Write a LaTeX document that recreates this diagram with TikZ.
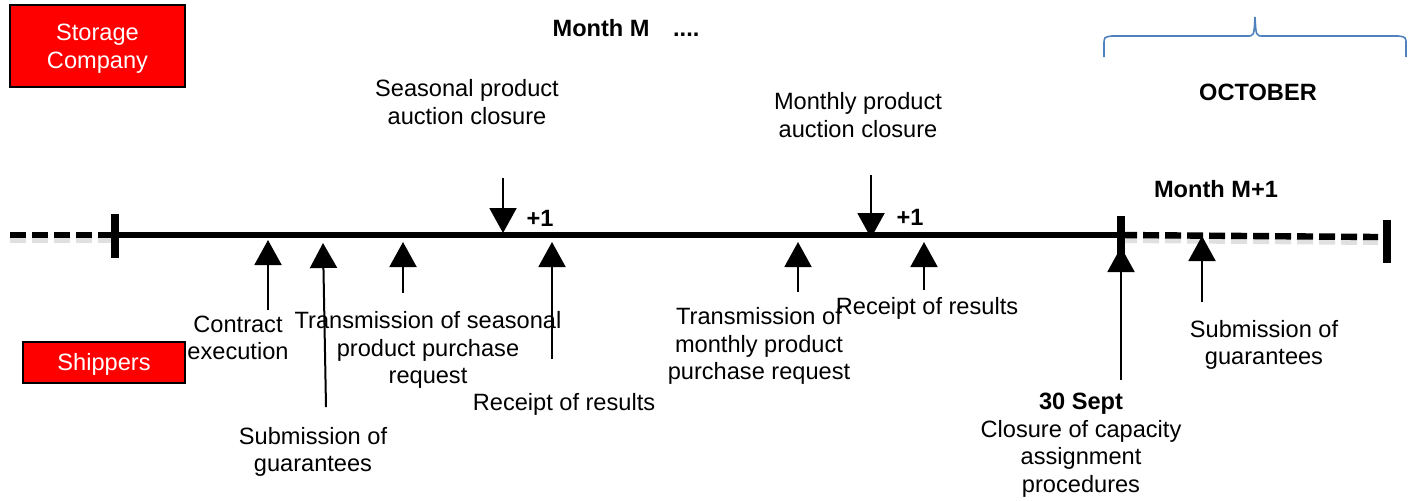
\documentclass[tikz,border=0pt]{standalone}
\usepackage{fontspec}
\setmainfont{Liberation Sans}
\usetikzlibrary{arrows.meta}
\definecolor{boxred}{RGB}{255,0,0}
\definecolor{bracecol}{RGB}{79,129,189}

\begin{document}
\begin{tikzpicture}[x=0.5pt,y=-0.5pt,
  evt/.style={align=center,font=\fontsize{11.8}{13.8}\selectfont},
  hdr/.style={font=\fontsize{11.8}{13.8}\selectfont\bfseries},
  party/.style={draw=black,line width=1pt,fill=boxred,text=white,align=center,text depth=0pt,font=\fontsize{11.8}{14.2}\selectfont},
  evtarrow/.style={line width=1pt,-{Triangle[length=12.5pt,width=13.5pt]}},
  axis/.style={line width=3.2pt},
  axisdash/.style={line width=3.2pt,dash pattern=on 8pt off 3pt},
  axisshade/.style={line width=3pt,dash pattern=on 8pt off 3pt,black!12},
  endbar/.style={line width=4pt}]
\tikzstyle{every node}+=[inner sep=0pt]
\useasboundingbox (0,0) rectangle (1416,500);

% parties
\node[party,minimum width=87.5pt,minimum height=41pt] (storage) at (97.5,46) {Storage\\Company};
\node[party,minimum width=81pt,minimum height=20.5pt] (shippers) at (104,362) {Shippers};

% headings
\node[hdr] (monthM) at (626,28) {Month M\quad....};
\node[hdr] (october) at (1258,92) {OCTOBER};
\node[hdr] (monthM1) at (1216,189) {Month M+1};

% brace over october
\draw[bracecol,line width=0.8pt] (1104,57) -- (1104,45) .. controls (1104,37) .. (1112,36)
  -- (1247,36) .. controls (1254,36) .. (1255,17) .. controls (1256,36) .. (1263,36)
  -- (1398,36) .. controls (1406,37) .. (1406,45) -- (1406,57);

% time axis
\coordinate (startL) at (10,235);
\coordinate (barL) at (115,235);
\coordinate (sep) at (1121,235);
\coordinate (endR) at (1378,237);
\coordinate (barR) at (1387,241);
\draw[axisshade] ([yshift=-2.5pt]startL) -- ([yshift=-2.5pt]barL);
\draw[axisshade] ([yshift=-2.5pt]sep) -- ([yshift=-2.5pt]endR);
\draw[axisdash] (startL) -- (barL);
\draw[axis] (barL) -- (sep);
\draw[axisdash] (sep) -- (endR);
\draw[endbar] (barL) ++(0,-21) -- ++(0,44);
\draw[endbar] (sep) ++(0,-19) -- ++(0,44);
\draw[endbar] (barR) ++(0,-21) -- ++(0,43);

% contract execution
\coordinate (ce) at (268,240);
\coordinate (ce-t) at (268,310);
\node[evt] (ce-l) at (238,338) {Contract\\execution};
\draw[evtarrow] (ce-t) -- (ce);

% guarantees
\coordinate (sg) at (323,243);
\coordinate (sg-t) at (326,407);
\node[evt] (sg-l) at (313,452) {Submission of\\guarantees};
\draw[evtarrow] (sg-t) -- (sg);

% seasonal request
\coordinate (sr) at (403,242);
\coordinate (sr-t) at (403,293);
\node[evt] (sr-l) at (428,350) {Transmission of seasonal\\product purchase\\request};
\draw[evtarrow] (sr-t) -- (sr);

% seasonal auction
\coordinate (sa) at (503,233);
\coordinate (sa-t) at (503,178);
\node[evt] (sa-l) at (467,102) {Seasonal product\\auction closure};
\draw[evtarrow] (sa-t) -- (sa);
\node[hdr] (plus1a) at (540,218) {+1};

% seasonal results
\coordinate (sres) at (552,242);
\coordinate (sres-t) at (552,359);
\node[evt] (sres-l) at (564,404) {Receipt of results};
\draw[evtarrow] (sres-t) -- (sres);

% monthly request
\coordinate (mr) at (798,242);
\coordinate (mr-t) at (798,292);
\node[evt] (mr-l) at (759,346) {Transmission of\\monthly product\\purchase request};
\draw[evtarrow] (mr-t) -- (mr);

% monthly auction
\coordinate (ma) at (871,238);
\coordinate (ma-t) at (871,175);
\node[evt] (ma-l) at (858,115) {Monthly product\\auction closure};
\draw[evtarrow] (ma-t) -- (ma);
\node[hdr] (plus1b) at (910,217) {+1};

% monthly results
\coordinate (mres) at (924,242);
\coordinate (mres-t) at (924,290);
\node[evt] (mres-l) at (927,308) {Receipt of results};
\draw[evtarrow] (mres-t) -- (mres);

% closure
\coordinate (cl) at (1121,247);
\coordinate (cl-t) at (1121,380);
\node[evt] (cl-l) at (1081,445) {\textbf{30 Sept}\\Closure of capacity\\assignment\\procedures};
\draw[evtarrow] (cl-t) -- (cl);

% guarantees M+1
\coordinate (sg2) at (1202,236);
\coordinate (sg2-t) at (1202,302);
\node[evt] (sg2-l) at (1264,345) {Submission of\\guarantees};
\draw[evtarrow] (sg2-t) -- (sg2);
\end{tikzpicture}
\end{document}
